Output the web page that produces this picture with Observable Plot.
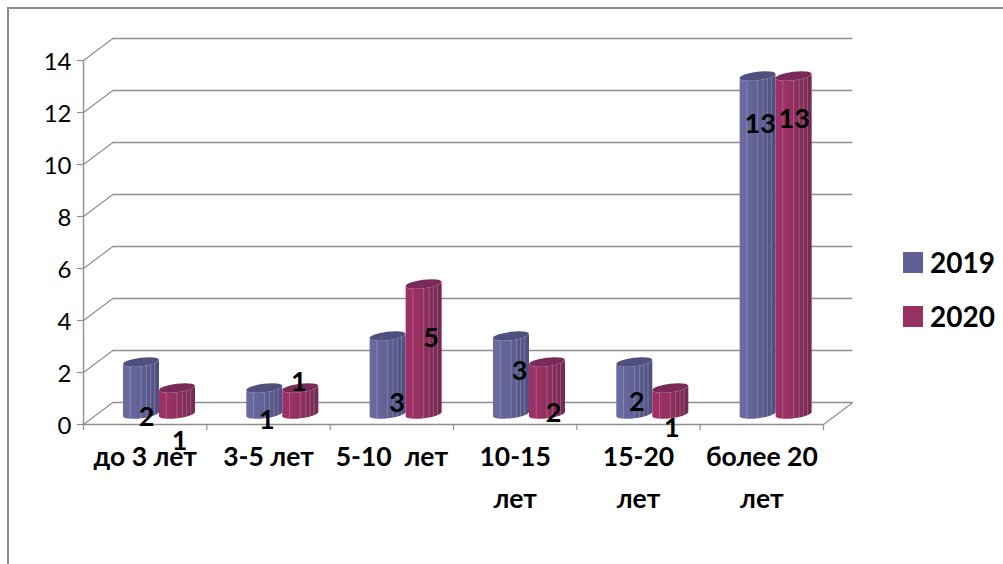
<!DOCTYPE html>
<html>
<head>
<meta charset="utf-8">
<script src="https://cdn.jsdelivr.net/npm/d3@7"></script>
<script src="https://cdn.jsdelivr.net/npm/@observablehq/plot@0.6"></script>
<style>
  html, body { margin: 0; padding: 0; background: #fff; }
  #chart { position: relative; width: 1003px; height: 564px; overflow: hidden; font-family: Lato, "Noto Sans", sans-serif; }
  #frame { position: absolute; left: 7px; top: 7px; right: -4px; bottom: -4px; border-left: 2px solid #8c8c8c; border-top: 2px solid #8c8c8c; }
  #legend { position: absolute; left: 903px; top: 240px; font-weight: 700; font-size: 28px; color: #000; }
  .item { display: flex; align-items: center; height: 44px; margin-bottom: 10px; }
  .swatch { width: 20px; height: 21px; margin-right: 7px; }
  svg text { white-space: pre; }
</style>
</head>
<body>
<div id="chart"><div id="frame"></div><div id="legend"></div></div>
<script>
const categories = ["до 3 лет", "3-5 лет", "5-10  лет", "10-15\nлет", "15-20\nлет", "более 20\nлет"];
const years = ["2019", "2020"];
const values2019 = [2, 1, 3, 3, 2, 13];
const values2020 = [1, 1, 5, 2, 1, 13];
const yTicks = [0, 2, 4, 6, 8, 10, 12, 14];

// hand-placed data labels of the original, as pixel nudges from each bar's top centre
const nudge2019 = [[5, 55], [2, 32], [9, 67], [8, 35], [2, 40], [2, 48]];
const nudge2020 = [[2, 53], [-2, -6], [7, 54], [6, 51], [1, 40], [0, 43]];

const colors = {
  "2019": {base: "#64649a", light: "#6c6ca4", dark: "#4f4f7e", cap: "#50507e", swatch: "#5f5f96"},
  "2020": {base: "#983062", light: "#a03068", dark: "#722a52", cap: "#7a2a58", swatch: "#983062"}
};

// pseudo-3D depth of the box and of the bars, in scale units
const depthX = 0.238, depthY = 0.846;
const barBase = 0.385, barOffset = 0.324, barWidth = 0.292;

const rows = [];
categories.forEach((c, i) => {
  rows.push({i, year: "2019", value: values2019[i], x1: i + barOffset, x2: i + barOffset + barWidth, nudge: nudge2019[i]});
  rows.push({i, year: "2020", value: values2020[i], x1: i + barOffset + barWidth, x2: i + barOffset + 2 * barWidth, nudge: nudge2020[i]});
});
const groupEdges = d3.range(categories.length + 1);

let uid = 0;
const NS = "http://www.w3.org/2000/svg";
function el(name, attrs, parent) {
  const e = document.createElementNS(NS, name);
  for (const k in attrs) e.setAttribute(k, attrs[k]);
  if (parent) parent.appendChild(e);
  return e;
}
const stripeFractions = [0.2, 0.5, 0.65, 0.77, 0.88];

function cylinder(index, scales, values) {
  const g = el("g", {});
  for (const i of index) {
    const r = rows[i], c = colors[r.year];
    const xa = Math.min(values.x1[i], values.x2[i]), xb = Math.max(values.x1[i], values.x2[i]);
    const top = Math.min(values.y1[i], values.y2[i]), base = Math.max(values.y1[i], values.y2[i]);
    const rx = (xb - xa) / 2, ry = 4.2, tilt = 2.2;
    const id = "cyl" + (uid++);
    const grad = el("linearGradient", {id: id + "g", x1: 0, x2: 1, y1: 0, y2: 0}, g);
    [[0, c.light], [0.35, c.base], [1, c.dark]].forEach(([o, col]) => el("stop", {offset: o, "stop-color": col}, grad));
    const d = `M${xa},${top + tilt} L${xa},${base + tilt} A${rx},${ry} -7 0 0 ${xb},${base - tilt} L${xb},${top - tilt} A${rx},${ry} -7 0 1 ${xa},${top + tilt} Z`;
    const clip = el("clipPath", {id: id + "c"}, g);
    el("path", {d}, clip);
    el("path", {d, fill: `url(#${id}g)`}, g);
    for (const f of stripeFractions) {
      const x = xa + f * (xb - xa);
      el("line", {x1: x, x2: x, y1: top - 10, y2: base + 10, stroke: "#fff", "stroke-opacity": 0.22, "stroke-width": 1, "clip-path": `url(#${id}c)`}, g);
    }
    el("ellipse", {cx: (xa + xb) / 2, cy: top, rx, ry, fill: c.cap, transform: `rotate(-7 ${(xa + xb) / 2} ${top})`}, g);
  }
  return g;
}

const gridColor = "#8f8f8f";
const plot = Plot.plot({
  width: 1003,
  height: 564,
  marginLeft: 83,
  marginRight: 180,
  marginTop: 60,
  marginBottom: 140,
  style: {fontFamily: 'Lato, "Noto Sans", sans-serif', overflow: "visible", background: "transparent"},
  x: {domain: [0, categories.length], axis: null},
  y: {domain: [0, 14], axis: null},
  marks: [
    // back wall gridlines
    Plot.ruleY(yTicks, {y: d => d + depthY, x1: depthX, x2: categories.length + depthX, stroke: gridColor, strokeWidth: 1.4}),
    // side wall diagonals
    Plot.link(yTicks, {x1: 0, y1: d => d, x2: depthX, y2: d => d + depthY, stroke: gridColor, strokeWidth: 1.2}),
    // floor right edge
    Plot.link([0], {x1: categories.length, y1: 0, x2: categories.length + depthX, y2: depthY, stroke: gridColor, strokeWidth: 1.2}),
    // axes
    Plot.ruleX([0], {y1: 0, y2: 14, stroke: gridColor, strokeWidth: 1.4}),
    Plot.ruleY([0], {x1: 0, x2: categories.length, stroke: gridColor, strokeWidth: 1.4}),
    Plot.ruleX(groupEdges, {y1: 0, y2: -0.23, stroke: gridColor, strokeWidth: 1.2}),
    Plot.ruleY(yTicks, {x1: -0.05, x2: 0, stroke: gridColor, strokeWidth: 1.2}),
    Plot.axisY({ticks: yTicks, tickSize: 0, tickPadding: 12, dy: 1.5, tickFormat: d => d, fontSize: 24, color: "#000", label: null}),
    // cylinders
    Plot.rect(rows, {x1: "x1", x2: "x2", y1: barBase, y2: d => d.value + barBase, render: cylinder}),
    // category labels
    Plot.text(categories, {
      x: (d, i) => i + 0.5, y: -0.45, text: d => d, lineAnchor: "top", lineHeight: 1.58,
      fontSize: 26.5, fontWeight: 700, fill: "#000"
    }),
    // data labels
    ...rows.map(r => Plot.text([r], {
      x: d => (d.x1 + d.x2) / 2, y: d => d.value + barBase, text: d => String(d.value),
      dx: r.nudge[0], dy: r.nudge[1], fontSize: 27, fontWeight: 700, fill: "#000"
    }))
  ]
});
const chart = document.getElementById("chart");
chart.insertBefore(plot, chart.firstChild);

const legend = document.getElementById("legend");
years.forEach(y => {
  const item = document.createElement("div"); item.className = "item";
  const s = document.createElement("div"); s.className = "swatch"; s.style.background = colors[y].swatch;
  const t = document.createElement("span"); t.textContent = y;
  item.append(s, t); legend.append(item);
});
</script>
</body>
</html>
